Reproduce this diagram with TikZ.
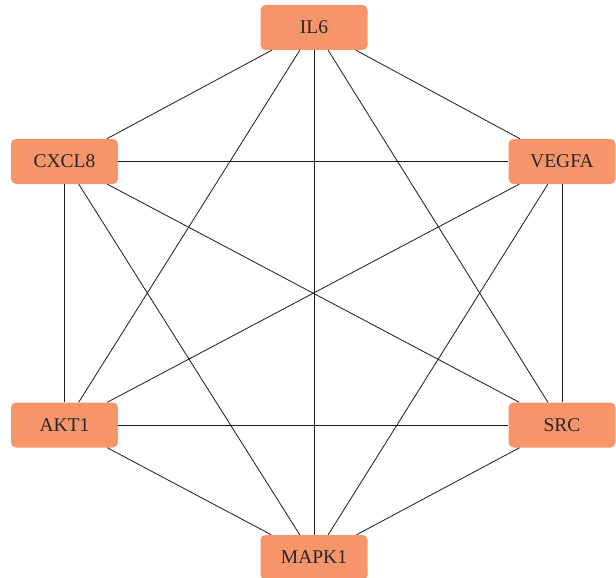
\documentclass[tikz,border=0pt]{standalone}
\usepackage{fontspec}
\setmainfont{Liberation Serif}
\definecolor{nodefill}{HTML}{F6956A}
\definecolor{edgecol}{HTML}{1A1A1A}
\begin{document}
\begin{tikzpicture}[x=1pt,y=-1pt,
  gene/.style={draw=none, fill=nodefill, rounded corners=5pt, minimum width=107pt, minimum height=45pt, inner sep=0pt, font=\fontsize{19.5}{22}\selectfont, text=black!85},
  link/.style={draw=edgecol, line width=0.8pt}]
\useasboundingbox (0,0) rectangle (616,578);
\node[gene] (IL6) at (314,27.5) {IL6};
\node[gene] (CXCL8) at (64.5,161.5) {CXCL8};
\node[gene] (VEGFA) at (562,161.5) {VEGFA};
\node[gene] (AKT1) at (64.5,425) {AKT1};
\node[gene] (SRC) at (562,425) {SRC};
\node[gene] (MAPK1) at (314,557.5) {MAPK1};
\foreach \a/\b in {IL6/CXCL8, IL6/VEGFA, IL6/AKT1, IL6/MAPK1, IL6/SRC,
  CXCL8/VEGFA, CXCL8/AKT1, CXCL8/MAPK1, CXCL8/SRC,
  VEGFA/AKT1, VEGFA/MAPK1, VEGFA/SRC,
  AKT1/SRC, AKT1/MAPK1, SRC/MAPK1}
  \draw[link] (\a) -- (\b);
\end{tikzpicture}
\end{document}
